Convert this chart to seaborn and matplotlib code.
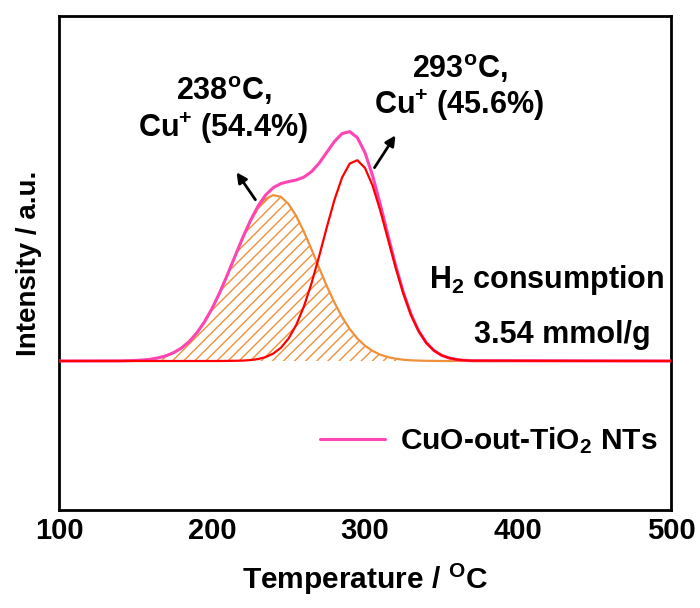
import matplotlib
matplotlib.use("Agg")
import matplotlib.pyplot as plt
from matplotlib.ticker import MultipleLocator
import pandas as pd
import seaborn as sns

# Temperature grid (°C)
temperature = [100, 140, 145, 150, 155, 160, 165, 170, 175, 180, 185, 190, 195,
               200, 205, 210, 215, 220, 225, 230, 235, 240, 245, 250, 255,
               260, 265, 270, 275, 280, 285, 290, 295, 300, 305, 310, 315,
               320, 325, 330, 335, 340, 345, 350, 355, 360, 365, 370, 500]

# Deconvoluted low-temperature peak (238 °C, Cu+ 54.4 %)
peak_low = [0, 0.001, 0.003, 0.006, 0.010, 0.018, 0.032, 0.052, 0.084, 0.129,
            0.193, 0.279, 0.389, 0.524, 0.682, 0.859, 1.044, 1.227, 1.392,
            1.528, 1.620, 1.659, 1.642, 1.570, 1.451, 1.296, 1.118, 0.932,
            0.751, 0.585, 0.440, 0.320, 0.225, 0.153, 0.100, 0.063, 0.039,
            0.023, 0.013, 0.007, 0.004, 0.002, 0.001, 0, 0, 0, 0, 0, 0]

# Deconvoluted high-temperature peak (293 °C, Cu+ 45.6 %)
peak_high = [0, 0, 0, 0, 0, 0, 0, 0, 0, 0, 0, 0, 0, 0, 0, 0.001, 0.002, 0.004,
             0.009, 0.019, 0.039, 0.074, 0.132, 0.224, 0.359, 0.542, 0.775,
             1.046, 1.335, 1.610, 1.834, 1.974, 2.008, 1.930, 1.752, 1.503,
             1.219, 0.934, 0.676, 0.462, 0.299, 0.182, 0.105, 0.057, 0.030,
             0.014, 0.007, 0.003, 0]

# Measured H2-TPR profile
tpr_profile = [0, 0.001, 0.003, 0.006, 0.010, 0.018, 0.032, 0.052, 0.084, 0.129,
               0.193, 0.279, 0.389, 0.524, 0.682, 0.860, 1.046, 1.231, 1.401,
               1.547, 1.659, 1.733, 1.774, 1.794, 1.810, 1.838, 1.893, 1.978,
               2.086, 2.195, 2.274, 2.294, 2.233, 2.083, 1.852, 1.566, 1.258,
               0.957, 0.689, 0.469, 0.303, 0.184, 0.106, 0.057, 0.030, 0.014,
               0.007, 0.003, 0]

sample_label = "CuO-out-TiO$_2$ NTs"
x_ticks = [100, 200, 300, 400, 500]

df = pd.DataFrame({"T": temperature, "low": peak_low,
                   "high": peak_high, "tpr": tpr_profile})

sns.set_style("white")
plt.rcParams["font.family"] = ["Liberation Sans", "DejaVu Sans"]
plt.rcParams["font.weight"] = "bold"
plt.rcParams["text.color"] = "black"
plt.rcParams["axes.labelcolor"] = "black"
plt.rcParams["xtick.color"] = "black"
plt.rcParams["mathtext.fontset"] = "custom"
plt.rcParams["mathtext.rm"] = "Liberation Sans:bold"
plt.rcParams["mathtext.bf"] = "Liberation Sans:bold"
plt.rcParams["mathtext.it"] = "Liberation Sans:bold:italic"
plt.rcParams["mathtext.default"] = "bf"
plt.rcParams["hatch.linewidth"] = 1.0

ORANGE = "#F0903A"
PINK = "#FF44B4"
RED = "#FF0000"

fig = plt.figure(figsize=(7, 6.08), dpi=100)
ax = fig.add_axes([59 / 700, 1 - 510 / 608, 612 / 700, 494 / 608])

plt.rcParams["hatch.color"] = ORANGE
ax.fill_between(df["T"], df["low"], 0, facecolor="none", edgecolor=ORANGE,
                hatch="///", linewidth=0, zorder=1)
sns.lineplot(data=df, x="T", y="low", ax=ax, color=ORANGE, linewidth=1.6,
             sort=False, estimator=None, legend=False, zorder=2)
sns.lineplot(data=df, x="T", y="tpr", ax=ax, color=PINK, linewidth=2.2,
             sort=False, estimator=None, label=sample_label, zorder=3)
sns.lineplot(data=df, x="T", y="high", ax=ax, color=RED, linewidth=1.6,
             sort=False, estimator=None, legend=False, zorder=4)

ax.set_xlim(100, 500)
ax.set_ylim(-1.49, 3.45)
ax.set_xticks(x_ticks)
ax.xaxis.set_minor_locator(MultipleLocator(50))
ax.set_yticks([])
ax.tick_params(axis="x", which="major", direction="in", length=8, width=2,
               labelsize=21, pad=5, top=False, colors="black")
ax.tick_params(axis="x", which="minor", direction="in", length=4, width=2,
               top=False)
for lab in ax.get_xticklabels():
    lab.set_fontweight("bold")
for sp in ax.spines.values():
    sp.set_linewidth(2)
    sp.set_color("black")

ax.set_xlabel("Temperature / $^{\\mathbf{O}}$C", fontsize=21.5, fontweight="bold",
              labelpad=12)
ax.set_ylabel("Intensity / a.u.", fontsize=20, fontweight="bold", labelpad=12)

# Peak annotations
txt = dict(fontsize=22, fontweight="bold", ha="center", va="baseline",
           color="black")
ax.text(207.8, 2.61, "238$^{o}$C,", **txt)
ax.text(207.2, 2.24, "Cu$^{+}$ (54.4%)", **txt)
ax.text(362.1, 2.83, "293$^{o}$C,", **txt)
ax.text(361.4, 2.47, "Cu$^{+}$ (45.6%)", **txt)
ax.text(418.9, 0.73, "H$_2$ consumption", **txt)
ax.text(428.8, 0.18, "3.54 mmol/g", **txt)

arrow = dict(arrowstyle="-|>,head_length=0.6,head_width=0.3", color="black",
             lw=2)
ax.annotate("", xy=(215.0, 1.91), xytext=(229.4, 1.59), arrowprops=arrow)
ax.annotate("", xy=(320.9, 2.28), xytext=(305.2, 1.91), arrowprops=arrow)

leg = ax.legend(loc="center right", bbox_to_anchor=(1.022, 0.14), frameon=False,
                prop={"size": 21.5, "weight": "bold"}, handlelength=2.2,
                handletextpad=0.5)
for t in leg.get_texts():
    t.set_color("black")

fig.savefig("out.png", dpi=100)
